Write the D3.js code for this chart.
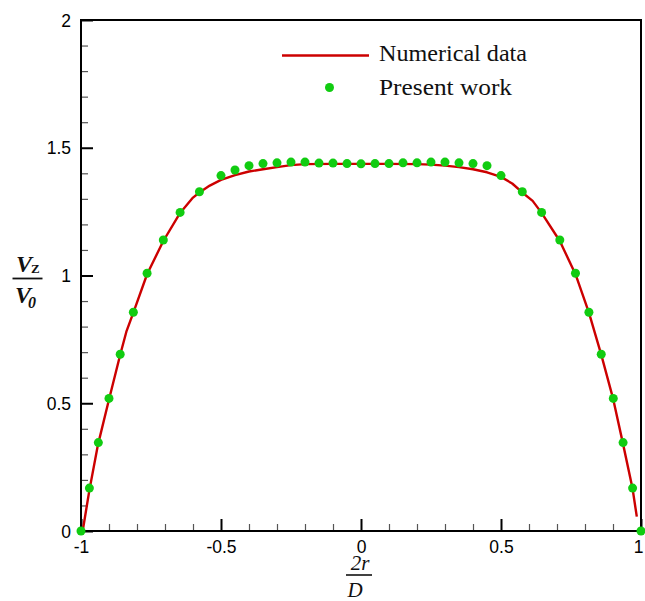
<!DOCTYPE html>
<html>
<head>
<meta charset="utf-8">
<script src="https://cdn.jsdelivr.net/npm/d3@7"></script>
<style>
  html, body { margin: 0; padding: 0; background: #fff; }
  svg { display: block; }
</style>
</head>
<body>
<svg id="chart" width="645" height="601"></svg>
<script>
// Axial velocity profile across the pipe: numerical reference vs present work
const numericalX = [-0.994, -0.97, -0.94, -0.9, -0.86, -0.838, -0.813, -0.764, -0.706, -0.646, -0.6, -0.577,
  -0.54, -0.5, -0.45, -0.4, -0.35, -0.3, -0.25, -0.2, -0.1, 0, 0.1, 0.2, 0.25, 0.3, 0.35, 0.4, 0.45, 0.5,
  0.54, 0.576, 0.613, 0.645, 0.71, 0.766, 0.814, 0.858, 0.901, 0.936, 0.97, 0.985];
const numericalY = [0, 0.16, 0.335, 0.515, 0.69, 0.78, 0.855, 1.005, 1.135, 1.245, 1.305, 1.325,
  1.352, 1.374, 1.393, 1.407, 1.416, 1.424, 1.432, 1.436, 1.437, 1.437, 1.437, 1.436, 1.434, 1.43, 1.424, 1.416, 1.404, 1.386,
  1.36, 1.325, 1.292, 1.245, 1.135, 1.005, 0.855, 0.69, 0.515, 0.34, 0.165, 0.056];

const presentX = [-1, -0.97, -0.938, -0.9, -0.86, -0.813, -0.764, -0.706, -0.646, -0.577, -0.5,
  -0.45, -0.4, -0.35, -0.3, -0.25, -0.2, -0.15, -0.1, -0.05, 0,
  0.05, 0.1, 0.15, 0.2, 0.25, 0.3, 0.35, 0.4, 0.45, 0.5,
  0.576, 0.645, 0.71, 0.766, 0.814, 0.858, 0.901, 0.936, 0.97, 1];
const presentY = [0, 0.168, 0.346, 0.519, 0.692, 0.856, 1.009, 1.139, 1.247, 1.328, 1.391,
  1.413, 1.43, 1.438, 1.441, 1.444, 1.444, 1.44, 1.44, 1.438, 1.437,
  1.438, 1.438, 1.441, 1.441, 1.444, 1.444, 1.441, 1.438, 1.43, 1.391,
  1.328, 1.247, 1.139, 1.009, 0.856, 0.692, 0.519, 0.346, 0.168, 0];

const xTicks = [-1, -0.5, 0, 0.5, 1];
const xTickLabels = ["-1", "-0.5", "0", "0.5", "1"];
const yTicks = [0, 0.5, 1, 1.5, 2];
const yTickLabels = ["0", "0.5", "1", "1.5", "2"];
const legendLabels = ["Numerical data", "Present work"];

const svg = d3.select("#chart");
const plotLeft = 81, plotRight = 641, plotTop = 20, plotBottom = 531;

const x = d3.scaleLinear().domain([-1, 1]).range([plotLeft, plotRight]);
const y = d3.scaleLinear().domain([0, 2]).range([plotBottom, plotTop]);

const tickFont = "'Liberation Sans', Arial, sans-serif";
const serif = "'Liberation Serif', 'Times New Roman', serif";

// minor ticks every 0.1 (inward)
const minorX = d3.range(-10, 11).map(d => d / 10).filter(d => Math.abs(d * 2 - Math.round(d * 2)) > 1e-6);
const minorY = d3.range(0, 21).map(d => d / 10).filter(d => Math.abs(d * 2 - Math.round(d * 2)) > 1e-6);

const xAxisMinor = d3.axisBottom(x).tickValues(minorX).tickSizeInner(-7).tickSizeOuter(0).tickFormat("");
const yAxisMinor = d3.axisLeft(y).tickValues(minorY).tickSizeInner(-7).tickSizeOuter(0).tickFormat("");
const xAxisMajor = d3.axisBottom(x).tickValues(xTicks).tickSizeInner(-12).tickSizeOuter(0)
  .tickFormat((d, i) => xTickLabels[i]);
const yAxisMajor = d3.axisLeft(y).tickValues(yTicks).tickSizeInner(-12).tickSizeOuter(0)
  .tickFormat((d, i) => yTickLabels[i]);

function styleAxis(g, w, color) {
  g.select(".domain").remove();
  g.selectAll(".tick line").attr("stroke", color).attr("stroke-width", w);
}

svg.append("g").attr("transform", `translate(0,${plotBottom})`).call(xAxisMinor).call(g => styleAxis(g, 1.2, "#555"));
svg.append("g").attr("transform", `translate(${plotLeft},0)`).call(yAxisMinor).call(g => styleAxis(g, 1.2, "#555"));

const gx = svg.append("g").attr("transform", `translate(0,${plotBottom})`).call(xAxisMajor);
styleAxis(gx, 2, "#000");
gx.selectAll(".tick text").attr("font-family", tickFont).attr("font-size", 17.5).attr("fill", "#000")
  .attr("y", 22).attr("dy", null)
  .attr("dx", (d, i) => i === xTicks.length - 1 ? -3 : 0);

const gy = svg.append("g").attr("transform", `translate(${plotLeft},0)`).call(yAxisMajor);
styleAxis(gy, 2, "#000");
gy.selectAll(".tick text").attr("font-family", tickFont).attr("font-size", 17.5).attr("fill", "#000")
  .attr("x", -10).attr("dy", "0.35em");

// frame
svg.append("rect").attr("x", plotLeft).attr("y", plotTop)
  .attr("width", plotRight - plotLeft).attr("height", plotBottom - plotTop)
  .attr("fill", "none").attr("stroke", "#000").attr("stroke-width", 2);

// numerical curve
const lineData = numericalX.map((d, i) => [d, numericalY[i]]);
svg.append("path").datum(lineData)
  .attr("fill", "none").attr("stroke", "#cc0000").attr("stroke-width", 2.4)
  .attr("stroke-linejoin", "round")
  .attr("d", d3.line().x(d => x(d[0])).y(d => y(d[1])));

// present work points
const dotData = presentX.map((d, i) => [d, presentY[i]]);
svg.append("g").selectAll("circle").data(dotData).join("circle")
  .attr("cx", d => x(d[0])).attr("cy", d => y(d[1])).attr("r", 4.5)
  .attr("fill", "#11cc11");

// legend
const legendWidths = [148, 133];
const legend = svg.append("g");
legend.append("line").attr("x1", 282).attr("x2", 369).attr("y1", 55.5).attr("y2", 55.5)
  .attr("stroke", "#cc0000").attr("stroke-width", 2.4);
legend.append("circle").attr("cx", 329.5).attr("cy", 87.5).attr("r", 4.5).attr("fill", "#11cc11");
legend.selectAll("text").data(legendLabels).join("text")
  .attr("x", 379).attr("y", (d, i) => 61 + i * 33.5)
  .attr("font-family", serif).attr("font-size", 23).attr("fill", "#111")
  .attr("textLength", (d, i) => legendWidths[i]).attr("lengthAdjust", "spacingAndGlyphs")
  .text(d => d);

// x axis title: 2r / D
const xt = svg.append("g").attr("font-family", serif).attr("font-style", "italic").attr("fill", "#111");
xt.append("text").attr("x", 360).attr("y", 570).attr("text-anchor", "middle").attr("font-size", 21).text("2r");
xt.append("line").attr("x1", 346).attr("x2", 372).attr("y1", 575).attr("y2", 575)
  .attr("stroke", "#111").attr("stroke-width", 1.6);
xt.append("text").attr("x", 355).attr("y", 597).attr("text-anchor", "middle").attr("font-size", 21).text("D");

// y axis title: V_Z / V_0
const yt = svg.append("g").attr("font-family", serif).attr("fill", "#111");
const num = yt.append("text").attr("x", 16).attr("y", 272).attr("font-size", 24)
  .attr("font-style", "italic").attr("font-weight", "bold");
num.append("tspan").text("V");
num.append("tspan").attr("font-size", 13).attr("font-style", "normal").attr("dx", -1).attr("dy", 1).text("Z");
yt.append("line").attr("x1", 12.5).attr("x2", 42.5).attr("y1", 278.5).attr("y2", 278.5)
  .attr("stroke", "#111").attr("stroke-width", 1.8);
const den = yt.append("text").attr("x", 15).attr("y", 303).attr("font-size", 24)
  .attr("font-style", "italic").attr("font-weight", "bold");
den.append("tspan").text("V");
den.append("tspan").attr("font-size", 16).attr("dx", -3).attr("dy", 5).text("0");
</script>
</body>
</html>
